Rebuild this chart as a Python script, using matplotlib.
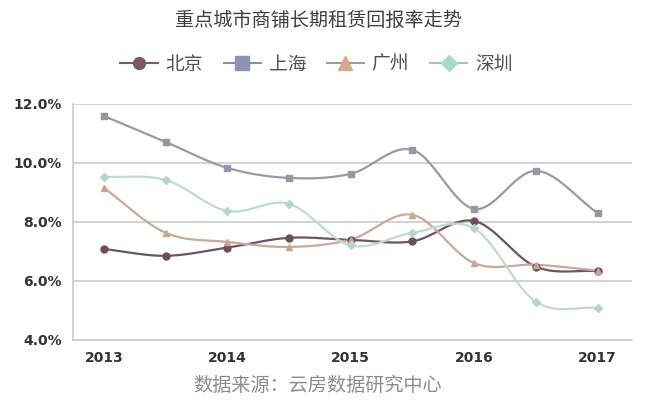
import numpy as np
import matplotlib
matplotlib.use("Agg")
import matplotlib.pyplot as plt

plt.rcParams["font.family"] = ["Noto Sans CJK SC", "DejaVu Sans"]

# half-year points, only the whole years are labelled
x_pos = [2013, 2013.5, 2014, 2014.5, 2015, 2015.5, 2016, 2016.5, 2017]
year_ticks = [2013, 2014, 2015, 2016, 2017]
year_labels = ["2013", "2014", "2015", "2016", "2017"]

beijing = [7.08, 6.85, 7.13, 7.46, 7.39, 7.34, 8.03, 6.48, 6.33]
shanghai = [11.59, 10.71, 9.83, 9.49, 9.63, 10.44, 8.44, 9.73, 8.30]
guangzhou = [9.15, 7.63, 7.32, 7.15, 7.40, 8.24, 6.60, 6.55, 6.35]
shenzhen = [9.53, 9.42, 8.37, 8.61, 7.20, 7.63, 7.78, 5.29, 5.08]

names = ["北京", "上海", "广州", "深圳"]
y_ticks = [4, 6, 8, 10, 12]


def smooth(xs, ys, n=30):
    # catmull-rom curve through the points, like excel's smoothed line
    xs = np.asarray(xs, float)
    ys = np.asarray(ys, float)
    px = np.concatenate([[2 * xs[0] - xs[1]], xs, [2 * xs[-1] - xs[-2]]])
    py = np.concatenate([[2 * ys[0] - ys[1]], ys, [2 * ys[-1] - ys[-2]]])
    out_x, out_y = [], []
    t = np.linspace(0, 1, n)
    for i in range(1, len(px) - 2):
        for arr, out in ((px, out_x), (py, out_y)):
            p0, p1, p2, p3 = arr[i - 1], arr[i], arr[i + 1], arr[i + 2]
            out.extend(0.5 * (2 * p1 + (-p0 + p2) * t
                              + (2 * p0 - 5 * p1 + 4 * p2 - p3) * t ** 2
                              + (-p0 + 3 * p1 - 3 * p2 + p3) * t ** 3))
    return out_x, out_y


fig = plt.figure(figsize=(6.47, 4.09), dpi=100)
ax = fig.add_axes([0.113, 0.169, 0.864, 0.577])

series = [
    (beijing, "#6e5461", "#6f4d5c", "o", 5),
    (shanghai, "#9a99a5", "#9596a6", "s", 5),
    (guangzhou, "#c8aa99", "#c9a58f", "^", 5),
    (shenzhen, "#bfdad2", "#b5d6cc", "D", 4),
]

handles = []
for (vals, lc, mc, mk, ms), name in zip(series, names):
    sx, sy = smooth(x_pos, vals)
    ax.plot(sx, sy, color=lc, lw=1.6, zorder=3)
    ax.plot(x_pos, vals, ls="none", marker=mk, ms=ms, color=mc, zorder=4)

legend_styles = [
    ("#7a5a68", "#7d5566", "o", 8.5),
    ("#8d8fa0", "#8a93b5", "s", 9.5),
    ("#a89a92", "#d6a88a", "^", 10),
    ("#a5c4ba", "#a5dcc8", "D", 8),
]
for (lc, mc, mk, ms), name in zip(legend_styles, names):
    h, = ax.plot([], [], color=lc, lw=1.5, marker=mk, ms=ms,
                 markerfacecolor=mc, markeredgecolor=mc, label=name)
    handles.append(h)

ax.set_xlim(2012.75, 2017.28)
ax.set_ylim(4, 12)
ax.set_yticks(y_ticks)
ax.set_yticklabels([f"{v:.1f}%" for v in y_ticks], fontsize=10,
                   fontweight="bold", color="#333333", family="DejaVu Sans")
ax.set_xticks(year_ticks)
ax.set_xticklabels(year_labels, fontsize=10, fontweight="bold",
                   color="#333333", family="DejaVu Sans")
ax.tick_params(length=0, pad=8)
ax.grid(axis="y", color="#c8c8c8", lw=1.1)
ax.set_axisbelow(True)
for s in ["top", "right"]:
    ax.spines[s].set_visible(False)
for s in ["left", "bottom"]:
    ax.spines[s].set_color("#c8c8c8")
    ax.spines[s].set_linewidth(1.1)

fig.text(0.492, 0.950, "重点城市商铺长期租赁回报率走势", ha="center",
         va="center", fontsize=13.8, color="#404040")
fig.legend(handles=handles, loc="center", bbox_to_anchor=(0.489, 0.843),
           ncol=4, frameon=False, fontsize=13.5, handlelength=2.0,
           columnspacing=1.1, handletextpad=0.4, labelcolor="#505050")
fig.text(0.4915, 0.058, "数据来源：云房数据研究中心", ha="center",
         va="center", fontsize=13.8, color="#8c8c8c")

fig.savefig("out.png", dpi=100)
